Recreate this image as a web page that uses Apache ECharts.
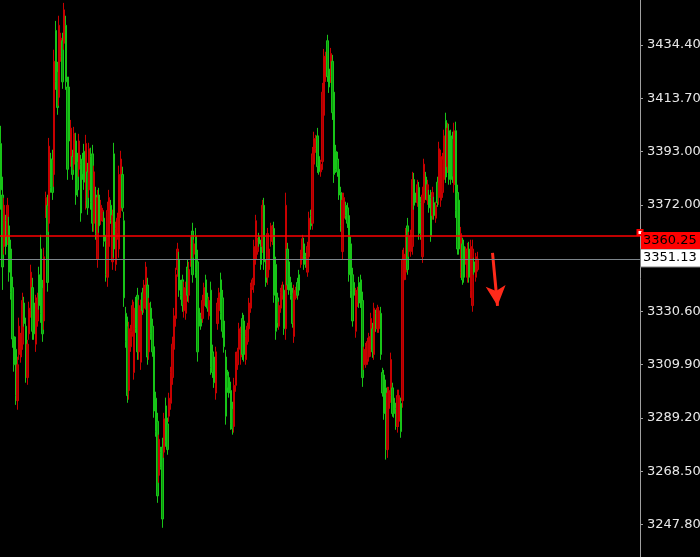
<!DOCTYPE html>
<html><head><meta charset="utf-8">
<script src="https://cdn.jsdelivr.net/npm/echarts/dist/echarts.min.js"></script>
<style>html,body{margin:0;padding:0;background:#000}#c{width:700px;height:557px}</style>
</head><body><div id="c"></div>
<script>
// [open, close, low, high]  (red = up, green = down)
const candles = [
[3396,3378,3370.3,3402.9],[3376,3348,3339.1,3383.1],[3356,3372,3352.8,3374.9],[3366,3356,3352.8,3368.3],[3360,3372,3356.6,3374.9],
[3364,3346,3342.3,3367.5],[3355,3338,3335.3,3358.6],[3340,3320,3316.6,3344.2],[3321,3310,3307.3,3324.4],[3316,3298,3294.4,3320.9],
[3296,3310,3292.5,3313.1],[3314,3325,3311.9,3328.3],[3313,3320,3310.8,3322.4],[3318,3335,3315.8,3338.0],[3334,3326,3324.8,3336.4],
[3325,3306,3303.0,3328.3],[3305,3318,3302.2,3319.7],[3322,3332,3319.7,3334.5],[3331,3346,3328.3,3348.9],[3340,3323,3319.7,3343.8],
[3334,3322,3319.7,3336.4],[3318,3335,3315.0,3337.2],[3327,3336,3324.8,3338.0],[3345,3333,3331.4,3348.1],[3355,3330,3326.3,3360.5],
[3340,3322,3318.9,3343.0],[3327,3352,3323.6,3355.5],[3369,3375,3367.1,3377.3],[3372,3342,3338.4,3376.1],[3365,3395,3361.7,3398.2],
[3390,3379,3376.9,3392.4],[3390,3377,3374.1,3393.6],[3384,3428,3379.2,3432.5],[3440,3420,3416.9,3443.7],[3424,3410,3407.2,3427.8],
[3414,3442,3410.7,3445.7],[3430,3437,3427.8,3439.1],[3436,3420,3417.3,3439.1],[3435,3448,3432.5,3450.7],[3442,3420,3416.9,3445.7],
[3418,3386,3381.9,3422.0],[3418,3397,3393.6,3422.0],[3390,3402,3387.0,3405.2],[3391,3384,3381.9,3393.6],[3388,3400,3385.8,3402.5],
[3397,3376,3372.2,3400.2],[3389,3378,3375.3,3392.4],[3386,3397,3383.1,3399.8],[3388,3369,3365.6,3391.6],[3390,3384,3381.9,3392.4],
[3393,3381,3378.0,3395.9],[3374,3396,3370.3,3399.4],[3385,3371,3368.3,3388.5],[3378,3394,3374.9,3396.3],[3391,3373,3370.3,3394.4],
[3392,3365,3361.7,3395.5],[3365,3385,3361.7,3387.4],[3376,3361,3358.6,3379.2],[3351,3375,3347.7,3378.0],[3376,3364,3361.3,3378.8],
[3366,3372,3364.4,3374.1],[3366,3370,3365.6,3371.0],[3367,3358,3355.9,3369.5],[3358,3345,3342.3,3360.5],[3344,3370,3340.3,3373.4],
[3356,3375,3353.5,3378.0],[3372,3366,3364.8,3374.1],[3350,3368,3346.9,3370.3],[3392,3355,3351.6,3396.3],[3349,3363,3346.5,3365.6],
[3361,3367,3358.6,3369.1],[3355,3384,3351.6,3387.4],[3370,3390,3367.1,3393.2],[3384,3371,3369.5,3387.0],[3366,3336,3332.5,3369.5],
[3330,3319,3316.6,3332.5],[3325,3298,3295.2,3328.7],[3300,3324,3296.4,3326.7],[3317,3323,3315.0,3325.5],[3323,3333,3320.9,3335.3],
[3307,3332,3304.2,3334.5],[3334,3324,3322.4,3336.4],[3337,3315,3311.9,3339.9],[3315,3333,3311.9,3335.3],[3311,3332,3308.0,3335.3],
[3338,3331,3329.4,3339.9],[3332,3341,3330.2,3343.0],[3334,3348,3331.4,3350.0],[3341,3313,3310.0,3343.8],[3315,3334,3311.9,3336.0],
[3332,3322,3319.7,3334.5],[3325,3315,3313.1,3327.9],[3317,3292,3289.4,3320.5],[3297,3284,3282.0,3299.5],[3288,3259,3256.3,3291.3],
[3267,3281,3264.1,3282.8],[3276,3270,3269.2,3278.1],[3278,3250,3246.6,3281.6],[3276,3289,3273.8,3291.3],[3294,3280,3278.1,3297.2],
[3287,3277,3275.0,3289.4],[3290,3297,3287.8,3299.1],[3295,3307,3292.5,3309.2],[3305,3318,3302.2,3320.9],[3316,3329,3313.9,3332.1],
[3328,3345,3324.8,3347.7],[3347,3355,3344.2,3357.4],[3351,3339,3336.4,3353.9],[3341,3337,3335.3,3343.0],[3343,3333,3330.6,3345.0],
[3331,3340,3328.3,3342.3],[3330,3340,3327.5,3342.3],[3348,3337,3334.5,3350.8],[3337,3347,3334.1,3350.0],[3350,3357,3348.1,3359.8],
[3362,3345,3341.9,3365.2],[3353,3357,3351.6,3358.6],[3360,3346,3343.8,3363.2],[3350,3315,3311.2,3354.7],[3332,3325,3322.8,3334.5],
[3329,3325,3323.6,3330.2],[3328,3335,3326.3,3337.2],[3333,3340,3331.4,3341.9],[3343,3334,3332.5,3345.0],[3336,3332,3330.6,3338.0],
[3329,3335,3327.5,3336.4],[3339,3309,3306.1,3342.3],[3315,3307,3304.9,3317.8],[3313,3303,3301.0,3315.0],[3299,3315,3296.4,3317.0],
[3326,3334,3323.6,3336.0],[3331,3338,3328.7,3339.9],[3343,3330,3327.5,3345.8],[3336,3323,3320.5,3339.1],[3327,3317,3314.7,3329.4],
[3313,3290,3286.7,3315.8],[3306,3301,3299.1,3308.0],[3305,3299,3297.2,3307.3],[3300,3287,3284.7,3303.4],[3293,3285,3282.8,3295.6],
[3286,3302,3283.6,3304.9],[3302,3313,3299.5,3315.0],[3310,3315,3308.0,3316.6],[3316,3324,3313.9,3326.3],[3313,3322,3310.0,3324.8],
[3328,3314,3311.9,3330.2],[3327,3314,3311.2,3329.4],[3312,3321,3310.0,3323.6],[3319,3325,3317.8,3326.3],[3324,3334,3321.6,3336.0],
[3332,3340,3330.2,3341.9],[3340,3343,3339.1,3343.8],[3341,3356,3338.0,3358.6],[3351,3366,3348.9,3368.3],[3354,3358,3352.8,3359.4],
[3360,3357,3355.9,3361.3],[3356,3349,3346.9,3358.6],[3356,3372,3353.5,3374.1],[3372,3350,3346.9,3374.9],[3349,3342,3340.3,3350.8],
[3344,3361,3341.1,3363.2],[3347,3355,3345.0,3357.4],[3358,3364,3355.9,3365.2],[3358,3363,3356.6,3364.4],[3363,3337,3334.1,3365.6],
[3349,3323,3319.7,3352.0],[3336,3326,3324.4,3338.0],[3325,3333,3323.6,3334.5],[3332,3338,3330.2,3339.9],[3337,3341,3335.3,3342.3],
[3339,3324,3321.6,3341.1],[3324,3372,3319.7,3376.9],[3355,3341,3339.1,3357.4],[3350,3339,3337.2,3352.0],[3342,3337,3335.3,3344.2],
[3338,3326,3324.4,3339.9],[3321,3339,3318.5,3341.1],[3336,3339,3335.3,3340.3],[3342,3337,3335.3,3343.8],[3345,3339,3337.2,3346.9],
[3349,3353,3347.7,3354.7],[3352,3359,3350.8,3360.5],[3357,3349,3346.9,3359.4],[3352,3349,3347.7,3353.5],[3346,3356,3344.2,3357.8],
[3352,3367,3350.0,3369.5],[3368,3364,3362.5,3370.3],[3365,3392,3362.5,3394.7],[3388,3398,3385.8,3400.6],[3394,3398,3392.4,3399.4],
[3399,3387,3384.6,3402.1],[3391,3385,3383.9,3392.8],[3385,3388,3383.1,3389.7],[3389,3416,3385.8,3419.6],[3407,3430,3404.5,3432.8],
[3422,3430,3420.0,3431.7],[3436,3422,3420.0,3438.3],[3425,3418,3415.7,3427.8],[3422,3431,3419.6,3433.2],[3428,3408,3405.2,3430.5],
[3416,3384,3380.7,3419.6],[3393,3386,3384.6,3395.5],[3390,3385,3383.1,3392.8],[3386,3376,3374.1,3388.5],[3377,3364,3361.7,3379.2],
[3354,3374,3350.8,3376.9],[3367,3375,3365.2,3376.9],[3372,3368,3366.4,3373.4],[3371,3365,3363.2,3373.0],[3368,3345,3342.3,3371.0],
[3357,3339,3336.0,3359.8],[3345,3327,3324.8,3347.7],[3342,3337,3335.3,3343.8],[3323,3338,3320.5,3339.9],[3334,3339,3332.5,3340.3],
[3342,3334,3332.1,3344.2],[3343,3334,3332.1,3345.0],[3335,3305,3301.4,3338.4],[3310,3316,3308.0,3317.0],[3310,3317,3308.8,3318.5],
[3312,3319,3310.0,3320.5],[3313,3321,3311.2,3322.4],[3316,3328,3313.1,3330.2],[3324,3315,3312.7,3326.3],[3314,3332,3311.9,3334.1],
[3330,3324,3322.8,3331.4],[3324,3332,3322.4,3333.3],[3324,3331,3322.4,3332.5],[3330,3314,3311.9,3332.5],[3307,3299,3297.6,3308.8],
[3306,3291,3288.6,3308.0],[3301,3277,3273.1,3304.2],[3277,3299,3273.8,3301.4],[3293,3300,3291.3,3301.4],[3298,3312,3295.2,3314.7],
[3301,3291,3289.8,3303.0],[3297,3291,3289.4,3299.1],[3293,3286,3284.7,3295.2],[3286,3298,3283.6,3300.3],[3288,3298,3285.9,3300.3],
[3295,3284,3281.6,3297.2],[3296,3351,3293.3,3354.7],[3343,3353,3340.3,3355.5],[3346,3361,3343.0,3363.2],[3364,3347,3345.0,3367.1],
[3354,3360,3352.0,3361.7],[3354,3361,3352.0,3362.5],[3356,3382,3352.8,3385.0],[3382,3372,3370.3,3384.6],[3376,3374,3373.0,3376.9],
[3373,3380,3371.4,3381.9],[3379,3361,3358.6,3381.1],[3373,3361,3358.6,3375.3],[3352,3376,3349.6,3379.2],[3373,3388,3370.3,3390.1],
[3383,3376,3374.1,3385.0],[3374,3380,3372.2,3381.9],[3376,3371,3369.1,3378.0],[3375,3360,3357.8,3378.0],[3368,3377,3366.4,3379.2],
[3373,3368,3366.4,3375.3],[3367,3372,3365.2,3373.4],[3381,3373,3371.4,3383.1],[3375,3394,3372.2,3396.7],[3374,3391,3371.4,3393.6],
[3377,3390,3374.9,3392.4],[3382,3399,3379.2,3401.4],[3405,3383,3380.7,3408.0],[3387,3402,3384.6,3404.1],[3401,3382,3380.0,3403.7],
[3399,3382,3380.0,3401.4],[3398,3383,3380.7,3400.6],[3380,3401,3376.9,3404.1],[3401,3370,3367.1,3404.5],[3377,3355,3352.8,3380.0],
[3374,3355,3352.8,3376.9],[3346,3361,3343.8,3363.6],[3357,3343,3341.1,3359.4],[3356,3344,3341.9,3358.6],[3350,3355,3348.9,3355.9],
[3344,3355,3341.9,3357.4],[3355,3344,3341.9,3357.8],[3339,3356,3336.0,3358.6],[3333,3355,3330.6,3358.6],[3350,3346,3345.0,3351.6],
[3344,3352,3342.3,3353.5],[3347,3351.13,3346.2,3353.9]
];
const slotCount = 384;               // bars that fit the window (incl. empty right margin)
const categories = Array.from({length: slotCount}, (_, i) => 'B' + (i + 1));
const tickLabels = ['3247.80','3268.50','3289.20','3309.90','3330.60','','3372.00','3393.00','3413.70','3434.40'];
const tickFirst = 3247.8, tickLast = 3434.4;
const refPrice = 3360.25;   // red line
const bidPrice = 3351.13;   // gray line
const arrowFrom = [295, 3353.5];
const arrowTo = [298, 3332.9];
const axisTop = 3451.83;

const tickStep = (tickLast - tickFirst) / (tickLabels.length - 1);
const axisMin = tickFirst - tickStep;

function priceLineSeries(name, price, lineColor, lineWidth, boxColor, boxBorder, dy, endSymbol) {
  return {
    name: name, type: 'line', data: [], silent: true, z: 5,
    markLine: {
      silent: true, animation: false,
      symbol: ['none', endSymbol || 'none'], symbolSize: 5, symbolOffset: [0, [-3, 0]],
      lineStyle: {color: lineColor, width: lineWidth, type: 'solid', opacity: 1},
      label: {show: true, position: 'end', distance: 1, offset: [0, dy], color: '#000',
              fontSize: 13, fontFamily: 'DejaVu Sans', lineHeight: 15,
              backgroundColor: boxColor, borderColor: boxBorder || boxColor, borderWidth: boxBorder ? 1 : 0,
              padding: [1, 12, 1, 2], formatter: price.toFixed(2)},
      data: [{yAxis: price}]
    }
  };
}

const chart = echarts.init(document.getElementById('c'), null, {renderer: 'canvas'});
chart.setOption({
  backgroundColor: '#000000',
  animation: false,
  grid: {left: 0, right: 60, top: 0, bottom: -21, containLabel: false, outerBoundsMode: 'none'},
  xAxis: {
    type: 'category', data: categories, boundaryGap: true,
    axisLine: {show: false}, axisTick: {show: false}, axisLabel: {show: false}, splitLine: {show: false}
  },
  yAxis: {
    type: 'value', position: 'right', min: axisMin, max: axisTop, interval: tickStep,
    axisLine: {show: true, lineStyle: {color: '#a0a0a0', width: 1}},
    axisTick: {show: true, length: 3, lineStyle: {color: '#a0a0a0'}},
    splitLine: {show: false},
    axisLabel: {
      color: '#e8e8e8', fontSize: 13, fontFamily: 'DejaVu Sans', margin: 7,
      showMinLabel: false, showMaxLabel: false,
      formatter: function (v) {
        const k = Math.round((v - tickFirst) / tickStep);
        return (k >= 0 && k < tickLabels.length) ? tickLabels[k] : '';
      }
    }
  },
  series: [
    {
      type: 'candlestick',
      data: candles,
      barWidth: 1.6,
      large: false,
      itemStyle: {color: '#a80000', color0: '#0a9a0a', borderColor: '#c80000', borderColor0: '#18c418', borderWidth: 1},
      markLine: {
        silent: true, animation: false,
        lineStyle: {color: '#ff2a1a', width: 3, type: 'solid'},
        label: {show: false},
        data: [[{coord: arrowFrom, symbol: 'none'}, {coord: arrowTo, symbol: 'arrow', symbolSize: [15, 20]}]]
      }
    },
    priceLineSeries('bid', bidPrice, '#7d858b', 1, '#ffffff', '#808080', -1),
    priceLineSeries('ref', refPrice, '#ff0000', 1.5, '#ff0000', null, 5, 'emptyRect')
  ]
});
</script>
</body></html>
